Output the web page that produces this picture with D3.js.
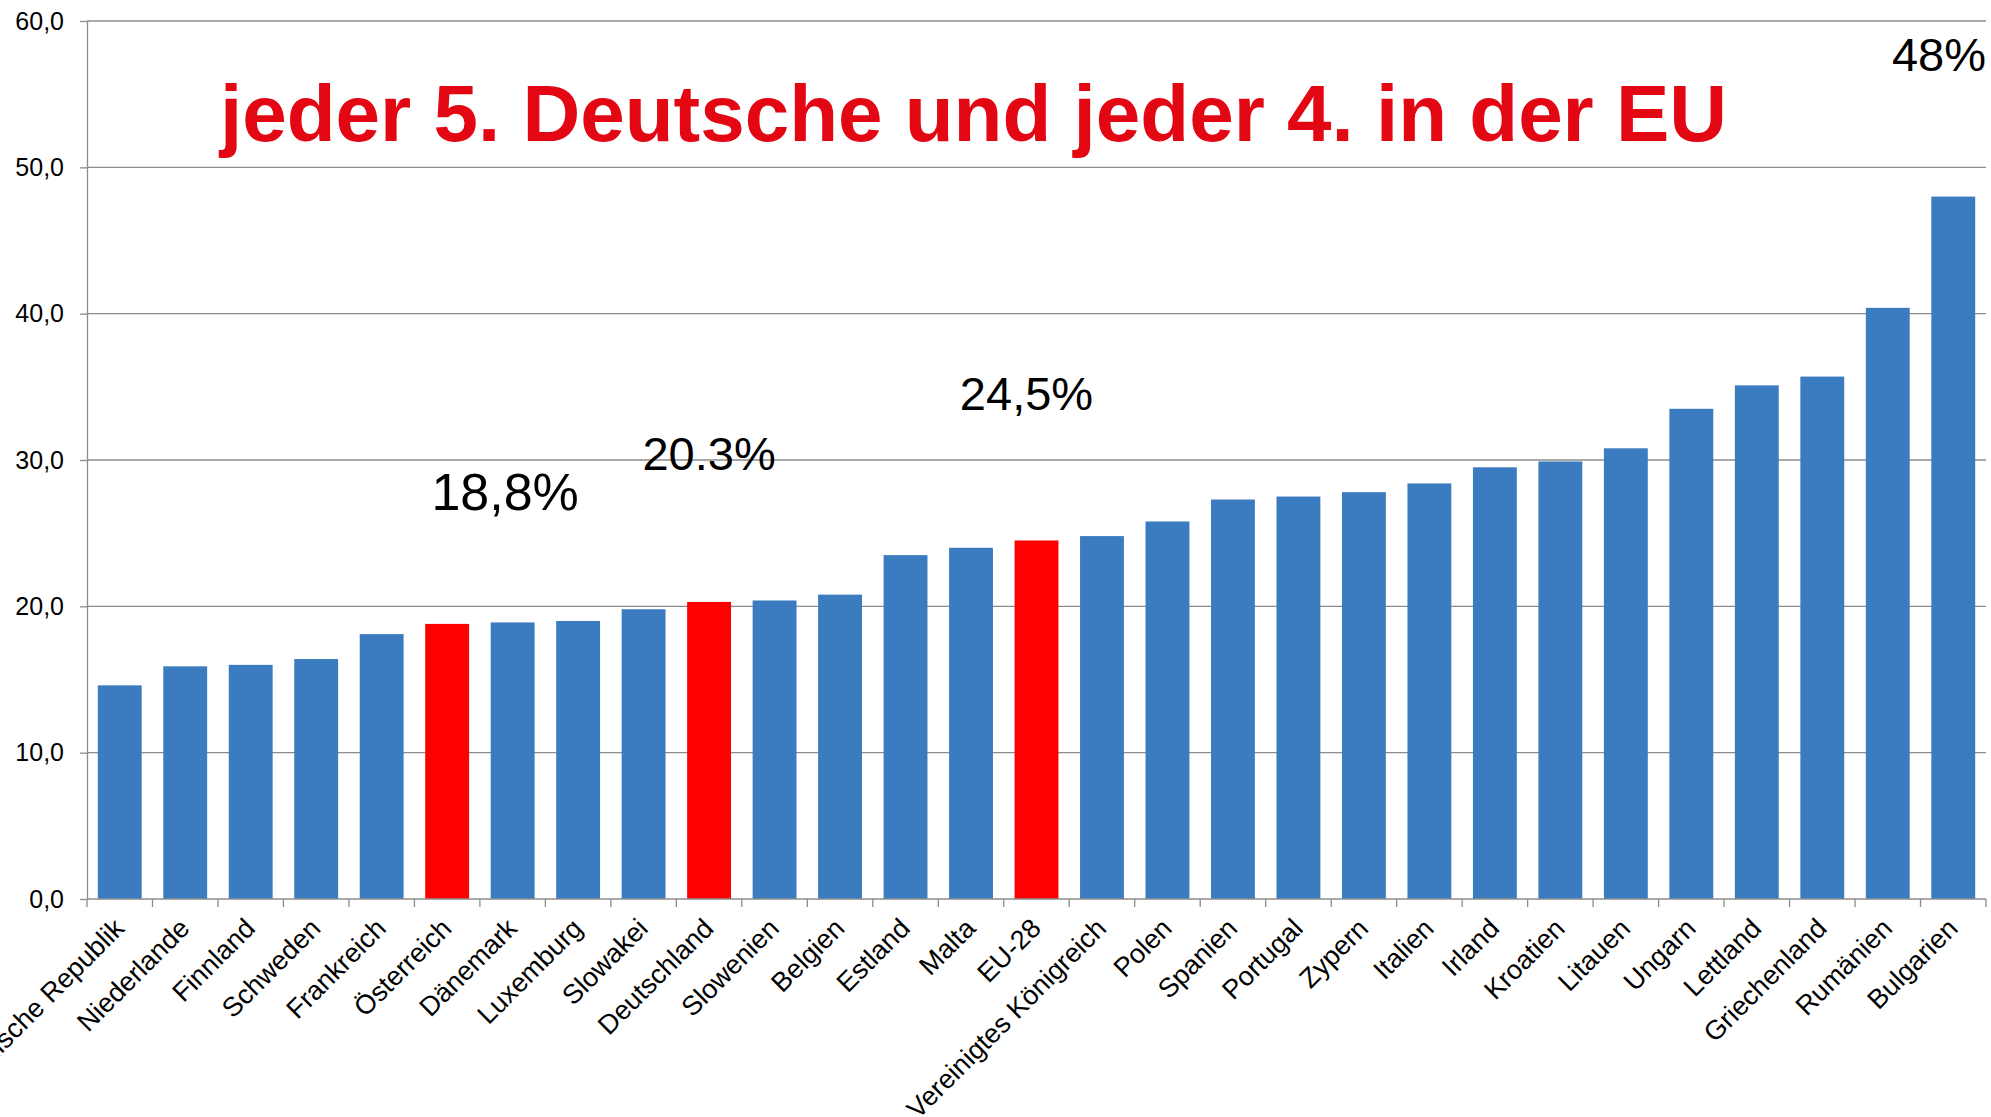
<!DOCTYPE html>
<html>
<head>
<meta charset="utf-8">
<script src="https://cdn.jsdelivr.net/npm/d3@7"></script>
<style>
  body { margin: 0; background: #fff; }
  svg { display: block; font-family: "Liberation Sans", Arial, sans-serif; }
  .grid line { stroke: #8c8c8c; stroke-width: 1.3; }
  .axis path, .axis line { stroke: #8c8c8c; stroke-width: 1.3; }
</style>
</head>
<body>
<script>
var categories = ['Tschechische Republik', 'Niederlande', 'Finnland', 'Schweden', 'Frankreich',
  'Österreich', 'Dänemark', 'Luxemburg', 'Slowakei', 'Deutschland', 'Slowenien', 'Belgien',
  'Estland', 'Malta', 'EU-28', 'Vereinigtes Königreich', 'Polen', 'Spanien', 'Portugal',
  'Zypern', 'Italien', 'Irland', 'Kroatien', 'Litauen', 'Ungarn', 'Lettland',
  'Griechenland', 'Rumänien', 'Bulgarien'];
var values = [14.6, 15.9, 16.0, 16.4, 18.1, 18.8, 18.9, 19.0, 19.8, 20.3, 20.4, 20.8,
  23.5, 24.0, 24.5, 24.8, 25.8, 27.3, 27.5, 27.8, 28.4, 29.5, 29.9, 30.8, 33.5, 35.1,
  35.7, 40.4, 48.0];
var highlighted = ['Österreich', 'Deutschland', 'EU-28'];
var yTicks = [0, 10, 20, 30, 40, 50, 60];
var title = 'jeder 5. Deutsche und jeder 4. in der EU';
var notes = ['18,8%', '20.3%', '24,5%', '48%'];

var w = 1991;
var h = 1117;
var margin = { top: 21, right: 5, bottom: 218, left: 87 };
var iw = w - margin.left - margin.right;
var ih = h - margin.top - margin.bottom;

var svg = d3.select('body').append('svg')
  .attr('width', w)
  .attr('height', h);

var g = svg.append('g')
  .attr('transform', 'translate(' + margin.left + ',' + margin.top + ')');

var x = d3.scaleBand()
  .domain(categories)
  .range([0, iw])
  .paddingInner(0.33)
  .paddingOuter(0.165);

var y = d3.scaleLinear()
  .domain([0, 60])
  .range([ih, 0]);

var fmt = function(d) { return d3.format('.1f')(d).replace('.', ','); };

// horizontal gridlines
g.append('g')
  .attr('class', 'grid')
  .selectAll('line')
  .data(yTicks.slice(1))
  .enter()
  .append('line')
  .attr('x1', 0)
  .attr('x2', iw)
  .attr('y1', function(d) { return y(d); })
  .attr('y2', function(d) { return y(d); });

// bars
g.selectAll('rect.bar')
  .data(values)
  .enter()
  .append('rect')
  .attr('class', 'bar')
  .attr('x', function(d, i) { return x(categories[i]); })
  .attr('y', function(d) { return y(d); })
  .attr('width', x.bandwidth())
  .attr('height', function(d) { return ih - y(d); })
  .attr('fill', function(d, i) {
    return highlighted.indexOf(categories[i]) >= 0 ? '#ff0000' : '#3b7bbf';
  });

// y axis
var yAxis = g.append('g')
  .attr('class', 'axis')
  .call(d3.axisLeft(y).tickValues(yTicks).tickFormat(fmt).tickSize(7).tickSizeOuter(0).tickPadding(16));
yAxis.selectAll('text')
  .attr('font-size', 25)
  .attr('fill', '#000')
  .attr('font-family', '"Liberation Sans", Arial, sans-serif');

// x axis with ticks at category boundaries
var xAxis = g.append('g')
  .attr('class', 'axis')
  .attr('transform', 'translate(0,' + ih + ')');
xAxis.append('line')
  .attr('x1', 0).attr('x2', iw);
xAxis.selectAll('line.tick')
  .data(d3.range(categories.length + 1))
  .enter()
  .append('line')
  .attr('class', 'tick')
  .attr('x1', function(i) { return i * x.step(); })
  .attr('x2', function(i) { return i * x.step(); })
  .attr('y1', 0)
  .attr('y2', 8);

xAxis.selectAll('text')
  .data(categories)
  .enter()
  .append('text')
  .attr('text-anchor', 'end')
  .attr('font-size', 27)
  .attr('fill', '#000')
  .attr('transform', function(d) {
    var cx = x(d) + x.bandwidth() / 2 + 6;
    return 'translate(' + cx + ',31) rotate(-45)';
  })
  .text(function(d) { return d; });

// title
svg.append('text')
  .attr('x', 220)
  .attr('y', 141)
  .attr('font-size', 80)
  .attr('font-weight', 'bold')
  .attr('fill', '#e30613')
  .text(title);

// percentage notes
var step = x.step();
var notePos = [
  { x: x('Österreich') + step * 1.22, y: y(26.6), anchor: 'middle', size: 52 },
  { x: x('Deutschland') + x.bandwidth() / 2, y: y(29.3), anchor: 'middle', size: 47 },
  { x: x('EU-28') + x.bandwidth() / 2 - 10, y: y(33.4), anchor: 'middle', size: 47 },
  { x: iw, y: y(56.6), anchor: 'end', size: 47 }
];
g.selectAll('text.note')
  .data(notes)
  .enter()
  .append('text')
  .attr('class', 'note')
  .attr('x', function(d, i) { return notePos[i].x; })
  .attr('y', function(d, i) { return notePos[i].y; })
  .attr('text-anchor', function(d, i) { return notePos[i].anchor; })
  .attr('font-size', function(d, i) { return notePos[i].size; })
  .attr('fill', '#000')
  .text(function(d) { return d; });
</script>
</body>
</html>
